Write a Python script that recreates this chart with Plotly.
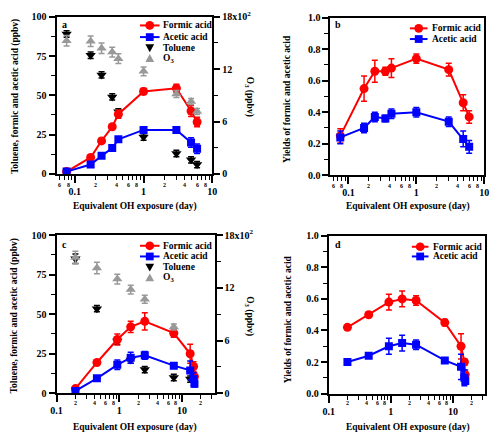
import numpy as np
import plotly.graph_objects as go

# ---------------- data ----------------
# panels a/b (first experiment)
x_ab = [0.076, 0.17, 0.245, 0.35, 0.43, 1.0, 3.0, 4.9, 6.0]
formic_a = [1.5, 10.5, 21, 30, 38, 52.5, 54.5, 40, 33]
formic_a_err = [0.8, 1, 1.5, 1.5, 2.5, 2, 2.5, 3.5, 3]
acetic_a = [1.5, 6, 11.5, 16.5, 22, 28, 28, 20, 16]
acetic_a_err = [0.8, 1, 1, 1.2, 1.5, 2, 2, 3, 3]
toluene_a = [89, 75.5, 63, 49, 39.5, 23.5, 13, 9, 6]
toluene_a_err = [2, 2, 2, 2, 2, 2, 2, 2, 2]
o3_a = [1525, 1520, 1440, 1395, 1320, 1175, 915, 830, 715]
o3_a_err = [60, 60, 60, 55, 55, 50, 40, 35, 35]

formic_b = [0.25, 0.55, 0.66, 0.66, 0.68, 0.74, 0.67, 0.46, 0.37]
formic_b_err = [0.045, 0.08, 0.07, 0.025, 0.06, 0.03, 0.04, 0.05, 0.04]
acetic_b = [0.24, 0.30, 0.37, 0.36, 0.39, 0.40, 0.34, 0.23, 0.18]
acetic_b_err = [0.04, 0.03, 0.03, 0.02, 0.03, 0.03, 0.03, 0.05, 0.04]

# panels c/d (second experiment)
x_cd = [0.2, 0.44, 0.93, 1.52, 2.55, 7.4, 13.5, 15.3, 15.8]
formic_c = [3, 19.5, 34, 42, 45.5, 38, 25, 17, 10.5]
formic_c_err = [1, 1.5, 3.5, 3.5, 5.5, 2.5, 6, 3, 2.5]
acetic_c = [1.5, 9.5, 18, 22.5, 24, 17.5, 14.5, 9, 6]
acetic_c_err = [0.8, 1, 3, 3.5, 2.5, 1.5, 6, 4, 2]
toluene_c = [85, 53.5, 33, 21, 15, 10, 9]
toluene_c_err = [3, 2, 2, 2, 2, 2, 2]
o3_c = [1545, 1425, 1300, 1180, 1070, 755]
o3_c_err = [70, 65, 55, 50, 45, 35]

formic_d = [0.42, 0.50, 0.58, 0.60, 0.59, 0.45, 0.30, 0.20, 0.12]
formic_d_err = [0.01, 0.015, 0.05, 0.05, 0.03, 0.02, 0.08, 0.02, 0.03]
acetic_d = [0.20, 0.24, 0.30, 0.32, 0.31, 0.21, 0.17, 0.10, 0.08]
acetic_d_err = [0.01, 0.015, 0.05, 0.05, 0.03, 0.015, 0.08, 0.05, 0.02]

# tick labels
major_ticks = [0.1, 1, 10]
major_text = ["0.1", "1", "10"]
small_labels_ab = [0.06, 0.08, 0.2, 0.4, 0.6, 0.8, 2, 4, 6, 8]
small_labels_cd = [0.2, 0.4, 0.6, 0.8, 2, 4, 6, 8, 20]
conc_ticks = [0, 25, 50, 75, 100]
o3_ticks = [0, 600, 1200, 1800]
o3_tick_text = ["0", "6", "12", "18x10<sup>2</sup>"]
yield_ticks = [0.0, 0.2, 0.4, 0.6, 0.8, 1.0]
yield_tick_text = ["0.0", "0.2", "0.4", "0.6", "0.8", "1.0"]

# ---------------- style ----------------
W, H = 500, 443
FONT = "Liberation Serif"
RED, BLUE, BLACK, GRAY = "#ff0000", "#0000ff", "#000000", "#999999"


def px(x):
    return x / W


def py(y):
    return 1 - y / H


fig = go.Figure()


def err(arr, color):
    return dict(type="data", array=arr, visible=True, color=color, thickness=1.5, width=3)


def acid_traces(x, f, fe, a, ae, xa, ya):
    fig.add_trace(go.Scatter(x=x, y=f, error_y=err(fe, RED), mode="lines+markers",
                             line=dict(color=RED, width=2),
                             marker=dict(symbol="circle", size=9, color=RED),
                             xaxis=xa, yaxis=ya, showlegend=False, name="Formic acid"))
    fig.add_trace(go.Scatter(x=x, y=a, error_y=err(ae, BLUE), mode="lines+markers",
                             line=dict(color=BLUE, width=2),
                             marker=dict(symbol="square", size=8, color=BLUE),
                             xaxis=xa, yaxis=ya, showlegend=False, name="Acetic acid"))


def tol_o3(x, t, te, o, oe, xa, ya, ya2):
    fig.add_trace(go.Scatter(x=x[:len(o)], y=o, error_y=err(oe, GRAY), mode="markers",
                             marker=dict(symbol="triangle-up", size=9, color=GRAY),
                             xaxis=xa, yaxis=ya2, showlegend=False, name="O3"))
    fig.add_trace(go.Scatter(x=x[:len(t)], y=t, error_y=err(te, BLACK), mode="markers",
                             marker=dict(symbol="triangle-down", size=9, color=BLACK),
                             xaxis=xa, yaxis=ya, showlegend=False, name="Toluene"))


tol_o3(x_ab, toluene_a, toluene_a_err, o3_a, o3_a_err, "x", "y", "y5")
acid_traces(x_ab, formic_a, formic_a_err, acetic_a, acetic_a_err, "x", "y")
acid_traces(x_ab, formic_b, formic_b_err, acetic_b, acetic_b_err, "x2", "y2")
tol_o3(x_cd, toluene_c, toluene_c_err, o3_c, o3_c_err, "x3", "y3", "y6")
acid_traces(x_cd, formic_c, formic_c_err, acetic_c, acetic_c_err, "x3", "y3")
acid_traces(x_cd, formic_d, formic_d_err, acetic_d, acetic_d_err, "x4", "y4")

tickfont = dict(family=FONT, size=10, color="black", weight="bold")


def minor_vals(lo, hi):
    vals = []
    for d in range(-3, 3):
        for m in range(2, 10):
            v = m * 10.0 ** d
            if lo <= np.log10(v) <= hi:
                vals.append(v)
    return vals


def xaxis(domain, rng, anchor):
    return dict(type="log", domain=domain, range=rng, anchor=anchor,
                showline=True, linewidth=2, linecolor="black", mirror=True,
                ticks="outside", ticklen=7, tickwidth=1.5, tickcolor="black",
                tickvals=major_ticks, ticktext=major_text, tickfont=tickfont,
                ticklabelstandoff=0,
                minor=dict(tickvals=minor_vals(rng[0], rng[1]), ticks="outside",
                           ticklen=4, tickwidth=1.2, tickcolor="black", showgrid=False),
                showgrid=False, zeroline=False)


def yaxis(domain, rng, anchor, tv, tt, minor, mirror):
    return dict(domain=domain, range=rng, anchor=anchor,
                showline=True, linewidth=2, linecolor="black", mirror=mirror,
                ticks="outside", ticklen=6, tickwidth=1.5, tickcolor="black",
                tickvals=tv, ticktext=tt, tickfont=tickfont,
                minor=dict(tickvals=minor, ticks="outside", ticklen=4, tickwidth=1.2,
                           tickcolor="black", showgrid=False),
                showgrid=False, zeroline=False)


dom_a_x, dom_a_y = [px(51.7), px(211)], [py(172), py(10)]
dom_b_x, dom_b_y = [px(331.7), px(489)], [py(173.3), py(11)]
dom_c_x, dom_c_y = [px(51.7), px(213.3)], [py(398), py(235)]
dom_d_x, dom_d_y = [px(330), px(490)], [py(398.3), py(235.7)]

rng_ab = [-1.265, 1.0]
rng_cd = [-1.0, 1.52]

conc_minor = [12.5, 37.5, 62.5, 87.5]
o3_minor = [300, 900, 1500]
yield_minor = [0.1, 0.3, 0.5, 0.7, 0.9]

fig.update_layout(
    xaxis=xaxis(dom_a_x, rng_ab, "y"),
    xaxis2=xaxis(dom_b_x, rng_ab, "y2"),
    xaxis3=xaxis(dom_c_x, rng_cd, "y3"),
    xaxis4=xaxis(dom_d_x, rng_cd, "y4"),
    yaxis=yaxis(dom_a_y, [0, 100], "x", conc_ticks, [str(v) for v in conc_ticks], conc_minor, False),
    yaxis2=yaxis(dom_b_y, [0, 1.0], "x2", yield_ticks, yield_tick_text, yield_minor, True),
    yaxis3=yaxis(dom_c_y, [0, 100], "x3", conc_ticks, [str(v) for v in conc_ticks], conc_minor, False),
    yaxis4=yaxis(dom_d_y, [0, 1.0], "x4", yield_ticks, yield_tick_text, yield_minor, True),
)
y5 = yaxis(dom_a_y, [0, 1800], "x", o3_ticks, o3_tick_text, o3_minor, False)
y5.update(overlaying="y", side="right")
y6 = yaxis(dom_c_y, [0, 1800], "x3", o3_ticks, o3_tick_text, o3_minor, False)
y6.update(overlaying="y3", side="right")
fig.update_layout(yaxis5=y5, yaxis6=y6)

annotations = []
shapes = []


def txt(x, y, s, size=10, angle=0, xanchor="center", color="black", xref="paper"):
    annotations.append(dict(x=x, y=y, xref=xref, yref="paper", text=s, showarrow=False,
                            textangle=angle, xanchor=xanchor, yanchor="middle",
                            font=dict(family=FONT, size=size, color=color, weight="bold")))


# small digit tick labels on the log axes
for xr, labels, yy in [("x", small_labels_ab, 183), ("x2", small_labels_ab, 184),
                       ("x3", small_labels_cd, 408), ("x4", small_labels_cd, 408)]:
    for v in labels:
        d = int(round(v / 10 ** np.floor(np.log10(v))))
        txt(float(np.log10(v)), py(yy), str(d), size=6, xref=xr)

# panel letters
txt(px(60), py(18), "a", 10)
txt(px(339), py(18), "b", 10)
txt(px(60), py(245), "c", 10)
txt(px(339), py(245), "d", 10)

# axis titles
xt = "Equivalent OH exposure (day)"
txt(px(132), py(206), xt, 9.5)
txt(px(411), py(206), xt, 9.5)
txt(px(132), py(433), xt, 9.5)
txt(px(411), py(433), xt, 9.5)
lt = "Toluene, formic and acetic acid (ppbv)"
txt(px(9), py(92), lt, 9.5, -90)
txt(px(9), py(318), lt, 9.5, -90)
yt = "Yields of formic and acetic acid"
txt(px(288), py(95), yt, 9.5, -90)
txt(px(288), py(322), yt, 9.5, -90)
ot = "O<sub>3</sub> (ppbv)"
txt(px(249), py(92), ot, 9.5, 90)
txt(px(249), py(318), ot, 9.5, 90)


# legends (drawn)
def leg_line(x0, x1, y, color):
    shapes.append(dict(type="line", xref="paper", yref="paper", x0=px(x0), x1=px(x1),
                       y0=py(y), y1=py(y), line=dict(color=color, width=2)))


def leg_marker(kind, x, y, color, r=4.5):
    if kind == "circle":
        shapes.append(dict(type="circle", xref="paper", yref="paper",
                           x0=px(x - r), x1=px(x + r), y0=py(y + r), y1=py(y - r),
                           fillcolor=color, line=dict(width=0)))
    elif kind == "square":
        r = r - 0.5
        shapes.append(dict(type="rect", xref="paper", yref="paper",
                           x0=px(x - r), x1=px(x + r), y0=py(y + r), y1=py(y - r),
                           fillcolor=color, line=dict(width=0)))
    else:
        s = 1 if kind == "up" else -1
        pts = [(x - r, y + s * r * 0.8), (x + r, y + s * r * 0.8), (x, y - s * r)]
        path = "M " + " L ".join(f"{px(a):.5f},{py(b):.5f}" for a, b in pts) + " Z"
        shapes.append(dict(type="path", xref="paper", yref="paper", path=path,
                           fillcolor=color, line=dict(width=0)))


def legend(x0, x1, xt0, ys, items):
    for (label, color, kind, with_line), y in zip(items, ys):
        if with_line:
            leg_line(x0, x1, y, color)
        leg_marker(kind, (x0 + x1) / 2, y, color)
        txt(px(xt0), py(y), label, 9.5, xanchor="left")


items4 = [("Formic acid", RED, "circle", True), ("Acetic acid", BLUE, "square", True),
          ("Toluene", BLACK, "down", False), ("O<sub>3</sub>", GRAY, "up", False)]
legend(137, 157, 158, [19, 31, 42, 53], items4)
legend(137, 157, 158, [246, 257, 268, 279], items4)
legend(413, 431, 434, [22, 33], items4[:2])
legend(415, 432, 435, [247, 257], items4[:2])

fig.update_layout(annotations=annotations, shapes=shapes,
                  width=W, height=H, autosize=False,
                  margin=dict(l=0, r=0, t=0, b=0),
                  paper_bgcolor="white", plot_bgcolor="white",
                  font=dict(family=FONT, color="black"), showlegend=False)

fig.write_html("out.html")
